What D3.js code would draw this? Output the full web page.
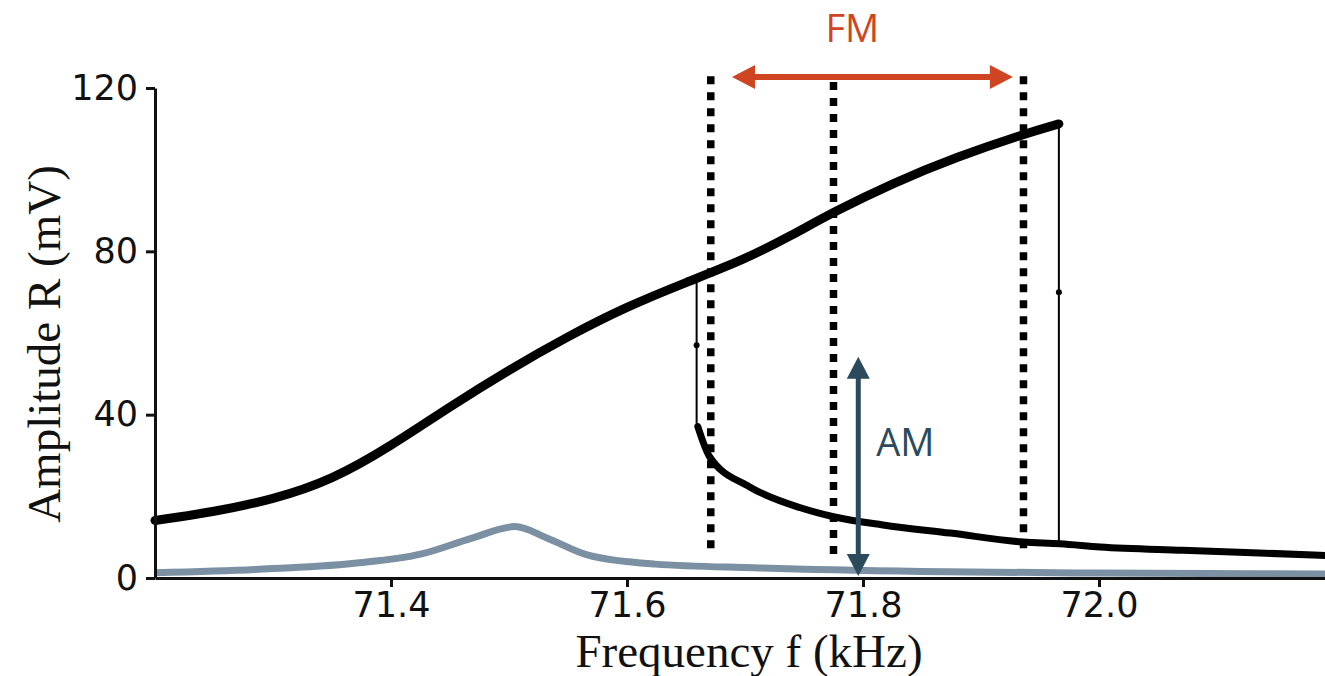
<!DOCTYPE html>
<html>
<head>
<meta charset="utf-8">
<script src="https://cdn.jsdelivr.net/npm/d3@7"></script>
<style>
  body { margin: 0; background: #fff; }
  .tick text { font-family: "DejaVu Sans", sans-serif; font-size: 35px; fill: #111; }
  .axis path, .axis line { stroke: #111; stroke-width: 3; }
  .title { font-family: "Liberation Serif", serif; font-size: 47px; fill: #111; }
  .note { font-family: "Open Sans", sans-serif; font-size: 38px; }
</style>
</head>
<body>
<script>
// frequency sweep data (kHz, mV)
var upperF = [71.20, 71.25, 71.30, 71.35, 71.40, 71.45, 71.50, 71.55, 71.60, 71.65,
              71.70, 71.74, 71.775, 71.825, 71.88, 71.936, 71.966];
var upperR = [14.1, 16.2, 19.2, 24.0, 32.3, 42.0, 51.0, 59.2, 66.5, 72.4,
              78.0, 84.0, 89.6, 96.7, 103.2, 108.7, 111.2];

var lowerF = [71.660, 71.670, 71.704, 71.747, 71.775, 71.817, 71.874, 71.936, 71.967, 72.001, 72.071, 72.130, 72.200];
var lowerR = [37.1, 29.7, 22.3, 17.2, 15.0, 13.0, 11.0, 8.8, 8.4, 7.6, 6.8, 6.2, 5.4];

var refF = [71.200, 71.285, 71.369, 71.426, 71.468, 71.505, 71.533, 71.567, 71.624, 71.708, 71.850, 72.000, 72.200];
var refR = [1.3, 2.1, 3.6, 5.9, 9.7, 12.6, 9.7, 5.6, 3.4, 2.5, 1.6, 1.2, 1.0];

// jumps: frequency, top, middle dot, bottom
var jumpF = [71.659, 71.966];
var jumpTop = [73.4, 111.2];
var jumpMid = [57.0, 70.0];
var jumpBot = [37.1, 8.4];

// dotted markers for the FM span
var dotF = [71.671, 71.775, 71.936];
var dotTop = [122.9, 121.5, 122.9];
var dotBot = [7.1, 5.6, 7.1];

var fmRange = [71.689, 71.927], fmLevel = 122.7, fmLabelF = 71.791;
var amF = 71.796, amRange = [0.5, 54.2];

var xTicks = [71.4, 71.6, 71.8, 72.0];
var yTicks = [0, 40, 80, 120];

var W = 1325, H = 676;
var svg = d3.select("body").append("svg").attr("width", W).attr("height", H);

var x = d3.scaleLinear().domain([71.2, 72.2]).range([155, 1335]);
var y = d3.scaleLinear().domain([0, 120]).range([578, 88]);

var line = d3.line()
    .x(function(d) { return x(d[0]); })
    .y(function(d) { return y(d[1]); })
    .curve(d3.curveMonotoneX);

var smooth = d3.line()
    .x(function(d) { return x(d[0]); })
    .y(function(d) { return y(d[1]); })
    .curve(d3.curveBasis);

svg.append("path")
    .datum(d3.zip(refF, refR))
    .attr("d", line)
    .attr("fill", "none").attr("stroke", "#7b90a3").attr("stroke-width", 7);

// dotted lines
svg.selectAll(".dot-line")
    .data(dotF)
    .enter().append("line")
    .attr("x1", function(d) { return x(d); })
    .attr("x2", function(d) { return x(d); })
    .attr("y1", function(d, i) { return y(dotTop[i]); })
    .attr("y2", function(d, i) { return y(dotBot[i]); })
    .attr("stroke", "#000").attr("stroke-width", 7.5).attr("stroke-dasharray", "8,8");

svg.append("path")
    .datum(d3.zip(upperF, upperR))
    .attr("d", smooth)
    .attr("fill", "none").attr("stroke", "#000").attr("stroke-width", 9).attr("stroke-linecap", "round");

svg.append("path")
    .datum(d3.zip(lowerF, lowerR))
    .attr("d", line)
    .attr("fill", "none").attr("stroke", "#000").attr("stroke-width", 7).attr("stroke-linecap", "round");

svg.selectAll(".jump")
    .data(jumpF)
    .enter().append("line")
    .attr("x1", function(d) { return x(d); })
    .attr("x2", function(d) { return x(d); })
    .attr("y1", function(d, i) { return y(jumpTop[i]); })
    .attr("y2", function(d, i) { return y(jumpBot[i]); })
    .attr("stroke", "#000").attr("stroke-width", 2);

svg.selectAll(".jump-dot")
    .data(jumpF)
    .enter().append("circle")
    .attr("cx", function(d) { return x(d); })
    .attr("cy", function(d, i) { return y(jumpMid[i]); })
    .attr("r", 3).attr("fill", "#000");

// axes
svg.append("g")
    .attr("class", "axis")
    .attr("transform", "translate(0," + y(0) + ")")
    .call(d3.axisBottom(x).tickValues(xTicks).tickFormat(d3.format(".1f")).tickSize(9).tickSizeOuter(0).tickPadding(5));

svg.append("g")
    .attr("class", "axis")
    .attr("transform", "translate(" + x(71.2) + ",0)")
    .call(d3.axisLeft(y).tickValues(yTicks).tickSize(9).tickSizeOuter(0).tickPadding(8));

svg.append("text")
    .attr("class", "title")
    .attr("x", 749).attr("y", 667)
    .attr("text-anchor", "middle")
    .text("Frequency f (kHz)");

svg.append("text")
    .attr("class", "title")
    .attr("transform", "translate(60,344) rotate(-90)")
    .attr("text-anchor", "middle")
    .text("Amplitude R (mV)");

// double arrow helper
function doubleArrow(x1, y1, x2, y2, color, w, headLen, headHalf) {
  var dx = x2 - x1, dy = y2 - y1, len = Math.sqrt(dx * dx + dy * dy);
  var ux = dx / len, uy = dy / len, px = -uy, py = ux;
  svg.append("line")
      .attr("x1", x1 + ux * headLen * 0.8).attr("y1", y1 + uy * headLen * 0.8)
      .attr("x2", x2 - ux * headLen * 0.8).attr("y2", y2 - uy * headLen * 0.8)
      .attr("stroke", color).attr("stroke-width", w);
  [[x1, y1, 1], [x2, y2, -1]].forEach(function(e) {
    var bx = e[0] + e[2] * ux * headLen, by = e[1] + e[2] * uy * headLen;
    svg.append("polygon")
        .attr("points", [[e[0], e[1]], [bx + px * headHalf, by + py * headHalf], [bx - px * headHalf, by - py * headHalf]].join(" "))
        .attr("fill", color);
  });
}

doubleArrow(x(fmRange[0]), y(fmLevel), x(fmRange[1]), y(fmLevel), "#cf4522", 6, 23, 12);
doubleArrow(x(amF), y(amRange[1]), x(amF), y(amRange[0]), "#2b4a5b", 5, 22, 11.5);

svg.append("text")
    .attr("class", "note")
    .attr("x", x(fmLabelF)).attr("y", 42)
    .attr("text-anchor", "middle")
    .attr("fill", "#cf4522")
    .text("FM");

svg.append("text")
    .attr("class", "note")
    .attr("x", x(amF) + 18).attr("y", 456)
    .attr("fill", "#2b4a5b")
    .text("AM");
</script>
</body>
</html>
